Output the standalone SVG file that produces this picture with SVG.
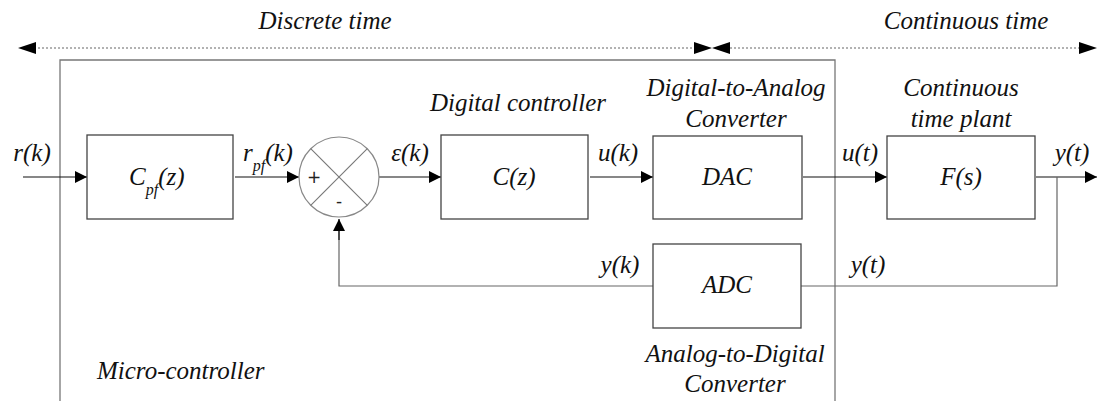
<svg xmlns="http://www.w3.org/2000/svg" width="1099" height="401" viewBox="0 0 1099 401">
<style>
text{font-family:"Liberation Serif","DejaVu Serif",serif;font-style:italic;font-size:25px;fill:#111}
.c{text-anchor:middle}
.box{fill:#fff;stroke:#444;stroke-width:1.3}
.ln{fill:none;stroke:#111;stroke-width:1.2}
.fb{fill:none;stroke:#666;stroke-width:1.2}
.fr{fill:none;stroke:#777;stroke-width:1.3}
.dot{stroke:#999;stroke-width:1.5;stroke-dasharray:2 2}
.sub{font-size:16px}
.sg{font-style:normal;font-family:"DejaVu Sans",sans-serif;font-size:17px;fill:#222}
</style>
<defs>
<marker id="ar" viewBox="0 0 10 10" refX="10" refY="5" markerWidth="18" markerHeight="12" markerUnits="userSpaceOnUse" orient="auto"><path d="M0,0L10,5L0,10z" fill="#000"/></marker>
</defs>
<g id="timeline">
<line class="dot" x1="34" y1="48" x2="694" y2="48"/>
<line class="dot" x1="730" y1="48" x2="1080" y2="48"/>
<path d="M18,48L36,42L36,54z" fill="#000"/>
<path d="M712,48L694,42L694,54z" fill="#000"/>
<path d="M712,48L730,42L730,54z" fill="#000"/>
<path d="M1097,48L1079,42L1079,54z" fill="#000"/>
<text x="325" y="29" class="c">Discrete time</text>
<text x="966" y="29" class="c">Continuous time</text>
</g>
<g id="microcontroller">
<path class="fr" d="M60,401V60H835V401"/>
<text x="97" y="379">Micro-controller</text>
</g>
<g id="connectors">
<line class="ln" x1="23" y1="177" x2="87" y2="177" marker-end="url(#ar)"/>
<line class="ln" x1="235" y1="177" x2="299" y2="177" marker-end="url(#ar)"/>
<line class="ln" x1="379" y1="177" x2="441" y2="177" marker-end="url(#ar)"/>
<line class="ln" x1="590" y1="177" x2="653" y2="177" marker-end="url(#ar)"/>
<line class="ln" x1="803" y1="177" x2="887" y2="177" marker-end="url(#ar)"/>
<line class="ln" x1="1036" y1="177" x2="1097" y2="177" marker-end="url(#ar)"/>
<path class="fb" d="M1057,177V286H801"/>
<path class="fb" d="M653,286H339V230"/>
<line class="ln" x1="339" y1="240" x2="339" y2="219" marker-end="url(#ar)"/>
</g>
<g id="prefilter">
<rect class="box" x="87" y="135" width="146" height="84"/>
<text x="129" y="185">C<tspan class="sub" dy="10">pf</tspan><tspan dy="-10">(z)</tspan></text>
</g>
<g id="sum">
<circle cx="339" cy="177" r="40" fill="#fff" stroke="#888" stroke-width="1.2"/>
<line x1="310.7" y1="148.7" x2="367.3" y2="205.3" stroke="#777" stroke-width="1.1"/>
<line x1="367.3" y1="148.7" x2="310.7" y2="205.3" stroke="#777" stroke-width="1.1"/>
<text x="314" y="183" class="c sg">+</text>
<text x="339" y="207" class="c sg">-</text>
</g>
<g id="controller">
<rect class="box" x="441" y="135" width="147" height="84"/>
<text x="514" y="185" class="c">C(z)</text>
<text x="518" y="111" class="c">Digital controller</text>
</g>
<g id="dac">
<rect class="box" x="653" y="136" width="149" height="83"/>
<text x="727" y="185" class="c">DAC</text>
<text x="736" y="96" class="c">Digital-to-Analog</text>
<text x="736" y="127" class="c">Converter</text>
</g>
<g id="plant">
<rect class="box" x="887" y="136" width="148" height="83"/>
<text x="961" y="185" class="c">F(s)</text>
<text x="961" y="96" class="c">Continuous</text>
<text x="961" y="127" class="c">time plant</text>
</g>
<g id="adc">
<rect class="box" x="653" y="244" width="148" height="84"/>
<text x="727" y="293" class="c">ADC</text>
<text x="735" y="362" class="c">Analog-to-Digital</text>
<text x="735" y="392" class="c">Converter</text>
</g>
<g id="labels">
<text x="32" y="161" class="c">r(k)</text>
<text x="243" y="161">r<tspan class="sub" dy="10">pf</tspan><tspan dy="-10">(k)</tspan></text>
<text x="410" y="161" class="c">ε(k)</text>
<text x="618" y="161" class="c">u(k)</text>
<text x="860" y="161" class="c">u(t)</text>
<text x="1072" y="161" class="c">y(t)</text>
<text x="620" y="273" class="c">y(k)</text>
<text x="868" y="273" class="c">y(t)</text>
</g>
</svg>
